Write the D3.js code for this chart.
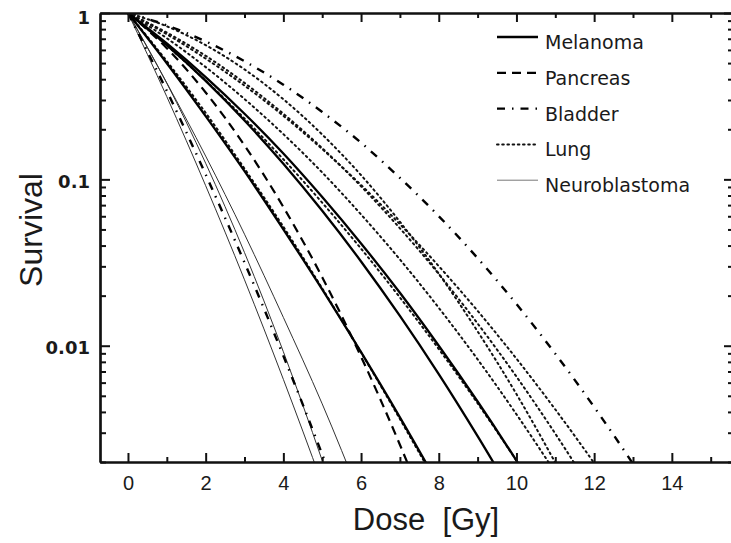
<!DOCTYPE html>
<html>
<head>
<meta charset="utf-8">
<script src="https://cdn.jsdelivr.net/npm/d3@7"></script>
<style>
  body { margin: 0; background: #fff; }
  svg { display: block; }
  text { fill: #1a1a1a; }
</style>
</head>
<body>
<div id="chart"></div>
<script>
// DATA
const doses = [0, 1, 2, 3, 4, 5, 6, 7, 8, 9, 10, 11, 12, 13, 14];

const melanomaA = [1, 0.499, 0.240, 0.112, 0.0501, 0.0218, 0.00914, 0.00371, 0.00145];
const melanomaB = [1, 0.641, 0.391, 0.226, 0.124, 0.0647, 0.0321, 0.0151, 0.00675, 0.00286, 0.00116];
const melanomaC = [1, 0.656, 0.412, 0.248, 0.143, 0.0783, 0.0412, 0.0208, 0.0100, 0.00462, 0.00204, 0.000861];
const pancreasA = [1, 0.614, 0.333, 0.160, 0.0682, 0.0258, 0.00859, 0.00254, 0.000666];
const bladderA = [1, 0.340, 0.107, 0.0316, 0.00869, 0.00222, 0.000529];
const bladderB = [1, 0.843, 0.675, 0.513, 0.371, 0.254, 0.166, 0.102, 0.0601, 0.0336, 0.0178, 0.00895, 0.00428, 0.00195, 0.000838];
const lungA = [1, 0.513, 0.251, 0.116, 0.0519, 0.0221, 0.00912, 0.00363, 0.00141];
const lungB = [1, 0.638, 0.392, 0.232, 0.132, 0.0724, 0.0383, 0.0195, 0.00955, 0.00451, 0.00204, 0.000895];
const lungC = [1, 0.705, 0.473, 0.304, 0.187, 0.110, 0.0615, 0.0330, 0.0169, 0.00828, 0.00387, 0.00173];
const lungD = [1, 0.832, 0.641, 0.458, 0.303, 0.186, 0.106, 0.0556, 0.0271, 0.0122, 0.00512, 0.00198, 0.000713];
const lungE = [1, 0.762, 0.553, 0.380, 0.248, 0.154, 0.0908, 0.0508, 0.0270, 0.0136, 0.00652, 0.00296, 0.00128];
const lungF = [1, 0.745, 0.532, 0.366, 0.241, 0.152, 0.0925, 0.0538, 0.0301, 0.0162, 0.00836, 0.00414, 0.00197, 0.000897];
const neuroA = [1, 0.314, 0.0916, 0.0249, 0.00628, 0.00148];
const neuroB = [1, 0.378, 0.125, 0.0363, 0.0092, 0.00204, 0.000398];
const neuroC = [1, 0.380, 0.138, 0.0468, 0.0148, 0.00447, 0.0012];

const legendNames = ["Melanoma", "Pancreas", "Bladder", "Lung", "Neuroblastoma"];
const xTickMajor = [0, 2, 4, 6, 8, 10, 12, 14];
const xTickMinor = [1, 3, 5, 7, 9, 11, 13, 15];
const yTickMajor = [1, 0.1, 0.01];
const yTickLabels = ["1", "0.1", "0.01"];

// line styles per tissue
const STYLES = {
  Melanoma:      { width: 2.3, dash: null, color: "#000" },
  Pancreas:      { width: 2.2, dash: "9,6", color: "#000" },
  Bladder:       { width: 2.4, dash: "8,7,1.5,7", color: "#000" },
  Lung:          { width: 2, dash: "1.6,3.6", color: "#111" },
  Neuroblastoma: { width: 1, dash: null, color: "#333" }
};

const curves = [
  { type: "Neuroblastoma", s: neuroA },
  { type: "Neuroblastoma", s: neuroB },
  { type: "Neuroblastoma", s: neuroC },
  { type: "Bladder", s: bladderA },
  { type: "Bladder", s: bladderB },
  { type: "Pancreas", s: pancreasA },
  { type: "Lung", s: lungA },
  { type: "Lung", s: lungB },
  { type: "Lung", s: lungC },
  { type: "Lung", s: lungD },
  { type: "Lung", s: lungE },
  { type: "Lung", s: lungF },
  { type: "Melanoma", s: melanomaA },
  { type: "Melanoma", s: melanomaB },
  { type: "Melanoma", s: melanomaC }
];

const W = 731, H = 543;
const PLOT = { left: 100, right: 734, top: 13, bottom: 462 };

const svg = d3.select("#chart").append("svg")
  .attr("width", W).attr("height", H);

const x = d3.scaleLinear().domain([-0.72, 15.6]).range([PLOT.left, PLOT.right]);
const y = d3.scaleLog().domain([0.002, 1]).range([PLOT.bottom, PLOT.top]);

// clip
svg.append("clipPath").attr("id", "plotclip")
  .append("rect")
  .attr("x", PLOT.left).attr("y", PLOT.top)
  .attr("width", PLOT.right - PLOT.left)
  .attr("height", PLOT.bottom - PLOT.top);

// CURVES
const line = d3.line()
  .x((d, i) => x(doses[i]))
  .y(d => y(d))
  .curve(d3.curveMonotoneX);

const gCurves = svg.append("g").attr("clip-path", "url(#plotclip)");
curves.forEach(c => {
  const st = STYLES[c.type];
  gCurves.append("path")
    .datum(c.s)
    .attr("fill", "none")
    .attr("stroke", st.color)
    .attr("stroke-width", st.width)
    .attr("stroke-dasharray", st.dash)
    .attr("stroke-linecap", c.type === "Lung" ? "round" : "butt")
    .attr("d", line);
});

// AXES
const axisStyle = g => {
  g.select(".domain").attr("stroke", "#111").attr("stroke-width", 2.2);
  g.selectAll(".tick line").attr("stroke", "#111").attr("stroke-width", 2);
};

// bottom
svg.append("g")
  .attr("transform", `translate(0, ${PLOT.bottom})`)
  .call(d3.axisBottom(x).tickValues(xTickMajor).tickSize(-9).tickSizeOuter(0).tickPadding(14))
  .call(axisStyle)
  .call(g => g.selectAll("text")
    .style("font-family", "Liberation Sans, Arial, sans-serif")
    .style("font-size", "20px")
    .attr("fill", "#1a1a1a"));
svg.append("g")
  .attr("transform", `translate(0, ${PLOT.bottom})`)
  .call(d3.axisBottom(x).tickValues(xTickMinor).tickSize(-5).tickSizeOuter(0).tickFormat(""))
  .call(axisStyle);

// top
svg.append("g")
  .attr("transform", `translate(0, ${PLOT.top})`)
  .call(d3.axisTop(x).tickValues(xTickMajor).tickSize(-9).tickSizeOuter(0).tickFormat(""))
  .call(axisStyle);
svg.append("g")
  .attr("transform", `translate(0, ${PLOT.top})`)
  .call(d3.axisTop(x).tickValues(xTickMinor).tickSize(-5).tickSizeOuter(0).tickFormat(""))
  .call(axisStyle);

// y minor ticks
const yMinor = y.ticks().filter(v => yTickMajor.indexOf(v) < 0);

// left
svg.append("g")
  .attr("transform", `translate(${PLOT.left}, 0)`)
  .call(d3.axisLeft(y).tickValues(yTickMajor).tickSize(-10).tickSizeOuter(0).tickPadding(10)
    .tickFormat((d, i) => yTickLabels[i]))
  .call(axisStyle)
  .call(g => g.selectAll("text")
    .attr("dy", (d, i) => i === 0 ? "0.6em" : "0.45em")
    .style("font-family", "DejaVu Sans, sans-serif")
    .style("font-weight", "bold")
    .style("font-size", "18px")
    .attr("fill", "#1a1a1a"));
svg.append("g")
  .attr("transform", `translate(${PLOT.left}, 0)`)
  .call(d3.axisLeft(y).tickValues(yMinor).tickSize(-6).tickSizeOuter(0).tickFormat(""))
  .call(axisStyle);

// right
svg.append("g")
  .attr("transform", `translate(${PLOT.right}, 0)`)
  .call(d3.axisRight(y).tickValues(yTickMajor).tickSize(-10).tickSizeOuter(0).tickFormat(""))
  .call(axisStyle);
svg.append("g")
  .attr("transform", `translate(${PLOT.right}, 0)`)
  .call(d3.axisRight(y).tickValues(yMinor).tickSize(-6).tickSizeOuter(0).tickFormat(""))
  .call(axisStyle);

// AXIS TITLES
svg.append("text")
  .attr("x", 426).attr("y", 530)
  .attr("text-anchor", "middle")
  .style("font-family", "Liberation Sans, Arial, sans-serif")
  .style("font-size", "31px")
  .style("white-space", "pre")
  .text("Dose  [Gy]");

svg.append("text")
  .attr("transform", "translate(42, 230) rotate(-90)")
  .attr("text-anchor", "middle")
  .style("font-family", "Liberation Sans, Arial, sans-serif")
  .style("font-size", "32px")
  .text("Survival");

// LEGEND
const legend = svg.append("g");
legendNames.forEach((name, i) => {
  const st = STYLES[name];
  const ly = 37 + i * 35.8;
  legend.append("line")
    .attr("x1", 497).attr("x2", 538)
    .attr("y1", ly).attr("y2", ly)
    .attr("stroke", name === "Neuroblastoma" ? "#777" : st.color)
    .attr("stroke-width", st.width)
    .attr("stroke-dasharray", st.dash)
    .attr("stroke-linecap", name === "Lung" ? "round" : "butt");
  legend.append("text")
    .attr("x", 545).attr("y", ly + 12)
    .style("font-family", "DejaVu Sans, sans-serif")
    .style("font-size", "19px")
    .attr("fill", "#222")
    .text(name);
});
</script>
</body>
</html>
